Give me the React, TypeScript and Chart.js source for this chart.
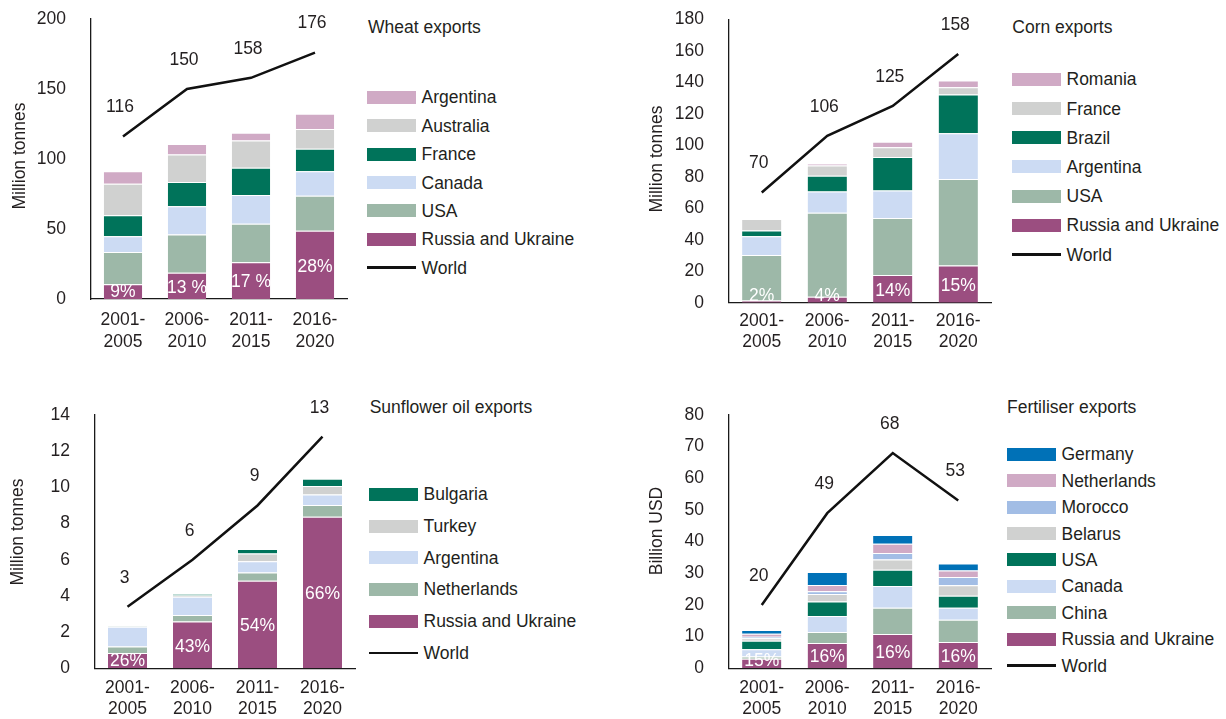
import React, { useEffect, useRef } from 'react';
import { Chart, registerables } from 'chart.js';

Chart.register(...registerables);

const FONT = "'Liberation Sans', Arial, Helvetica, sans-serif";
const TEXT = '#231f20';

const PERIODS = [['2001-', '2005'], ['2006-', '2010'], ['2011-', '2015'], ['2016-', '2020']];

// Colours
const C_PURPLE = '#9b4e80';
const C_SAGE = '#9db8a8';
const C_LIGHTBLUE = '#ccdbf3';
const C_GREEN = '#00735a';
const C_GREY = '#d0d1d0';
const C_PINK = '#d0aac5';
const C_BLUE = '#0071b7';
const C_MIDBLUE = '#a2bde5';

// Wheat exports (million tonnes)
const wheatRussiaUkraine = [10.6, 18.8, 26.2, 48.8];
const wheatUSA = [22.9, 27.2, 27.6, 25.0];
const wheatCanada = [11.4, 20.2, 20.5, 17.4];
const wheatFrance = [15.0, 17.4, 19.5, 16.2];
const wheatAustralia = [22.4, 19.7, 19.5, 14.0];
const wheatArgentina = [9.0, 7.4, 5.5, 11.0];
const wheatWorld = [116, 150, 158, 176];
const wheatWorldLabels = ['116', '150', '158', '176'];
const wheatShares = ['9%', '13 %', '17 %', '28%'];

// Corn exports (million tonnes)
const cornRussiaUkraine = [1.4, 3.8, 17.6, 23.7];
const cornUSA = [28.9, 53.4, 36.2, 54.9];
const cornArgentina = [11.9, 13.4, 17.4, 29.0];
const cornBrazil = [3.6, 10.1, 21.4, 24.6];
const cornFrance = [7.4, 6.4, 6.1, 4.7];
const cornRomania = [0, 1.2, 3.6, 4.2];
const cornWorld = [70, 106, 125, 158];
const cornWorldLabels = ['70', '106', '125', '158'];
const cornShares = ['2%', '4%', '14%', '15%'];

// Sunflower oil exports (million tonnes)
const sunRussiaUkraine = [0.85, 2.58, 4.84, 8.38];
const sunNetherlands = [0.35, 0.37, 0.46, 0.64];
const sunArgentina = [1.1, 1.01, 0.61, 0.59];
const sunTurkey = [0.02, 0.06, 0.44, 0.46];
const sunBulgaria = [0.04, 0.08, 0.24, 0.41];
const sunWorld = [3.4, 6.0, 9.0, 12.8];
const sunWorldLabels = ['3', '6', '9', '13'];
const sunShares = ['26%', '43%', '54%', '66%'];

// Fertiliser exports (billion USD)
const fertRussiaUkraine = [3.05, 8.0, 10.8, 8.3];
const fertChina = [0.65, 3.5, 8.3, 7.0];
const fertCanada = [2.3, 5.0, 6.9, 3.8];
const fertUSA = [2.7, 4.6, 5.1, 3.8];
const fertBelarus = [0.8, 2.4, 3.3, 3.3];
const fertMorocco = [0.5, 0.8, 2.0, 2.6];
const fertNetherlands = [0.9, 2.0, 2.9, 2.1];
const fertGermany = [1.2, 4.1, 2.8, 2.2];
const fertWorld = [20, 49, 68, 53];
const fertWorldLabels = ['20', '49', '68', '53'];
const fertShares = ['15%', '16%', '16%', '16%'];

type Series = { label: string; data: number[]; color: string };

type PanelCfg = {
  title: string;
  yTitle: string;
  yTitlePos: [number, number];
  canvas: { left: number; top: number; width: number; height: number };
  area: { l: number; r: number; t: number; b: number };
  yMax: number;
  yStep: number;
  xPad: number;
  xLineHeight: number;
  series: Series[]; // bottom-up
  world: number[];
  worldLabels: string[];
  shares: string[];
  titlePos: [number, number];
  legendX: number;
  legendFirst: number;
  legendStep: number;
};

const panels: PanelCfg[] = [
  {
    title: 'Wheat exports',
    yTitle: 'Million tonnes',
    yTitlePos: [20, 156],
    canvas: { left: 0, top: 0, width: 360, height: 370 },
    area: { l: 91, r: 347, t: 19, b: 299 },
    yMax: 200,
    yStep: 50,
    xPad: 10,
    xLineHeight: 22,
    series: [
      { label: 'Russia and Ukraine', data: wheatRussiaUkraine, color: C_PURPLE },
      { label: 'USA', data: wheatUSA, color: C_SAGE },
      { label: 'Canada', data: wheatCanada, color: C_LIGHTBLUE },
      { label: 'France', data: wheatFrance, color: C_GREEN },
      { label: 'Australia', data: wheatAustralia, color: C_GREY },
      { label: 'Argentina', data: wheatArgentina, color: C_PINK },
    ],
    world: wheatWorld,
    worldLabels: wheatWorldLabels,
    shares: wheatShares,
    titlePos: [368, 26.7],
    legendX: 367,
    legendFirst: 97.3,
    legendStep: 28.4,
  },
  {
    title: 'Corn exports',
    yTitle: 'Million tonnes',
    yTitlePos: [657, 159],
    canvas: { left: 600, top: 0, width: 400, height: 370 },
    area: { l: 729, r: 991, t: 19.3, b: 302.7 },
    yMax: 180,
    yStep: 20,
    xPad: 8,
    xLineHeight: 21,
    series: [
      { label: 'Russia and Ukraine', data: cornRussiaUkraine, color: C_PURPLE },
      { label: 'USA', data: cornUSA, color: C_SAGE },
      { label: 'Argentina', data: cornArgentina, color: C_LIGHTBLUE },
      { label: 'Brazil', data: cornBrazil, color: C_GREEN },
      { label: 'France', data: cornFrance, color: C_GREY },
      { label: 'Romania', data: cornRomania, color: C_PINK },
    ],
    world: cornWorld,
    worldLabels: cornWorldLabels,
    shares: cornShares,
    titlePos: [1012.3, 26.7],
    legendX: 1012,
    legendFirst: 79.3,
    legendStep: 29.2,
  },
  {
    title: 'Sunflower oil exports',
    yTitle: 'Million tonnes',
    yTitlePos: [18, 532],
    canvas: { left: 0, top: 380, width: 360, height: 339 },
    area: { l: 95, r: 355, t: 415, b: 668.3 },
    yMax: 14,
    yStep: 2,
    xPad: 9,
    xLineHeight: 21,
    series: [
      { label: 'Russia and Ukraine', data: sunRussiaUkraine, color: C_PURPLE },
      { label: 'Netherlands', data: sunNetherlands, color: C_SAGE },
      { label: 'Argentina', data: sunArgentina, color: C_LIGHTBLUE },
      { label: 'Turkey', data: sunTurkey, color: C_GREY },
      { label: 'Bulgaria', data: sunBulgaria, color: C_GREEN },
    ],
    world: sunWorld,
    worldLabels: sunWorldLabels,
    shares: sunShares,
    titlePos: [369.7, 406.7],
    legendX: 369,
    legendFirst: 494.3,
    legendStep: 31.7,
  },
  {
    title: 'Fertiliser exports',
    yTitle: 'Billion USD',
    yTitlePos: [657, 531],
    canvas: { left: 600, top: 380, width: 400, height: 339 },
    area: { l: 729, r: 991, t: 415, b: 668.3 },
    yMax: 80,
    yStep: 10,
    xPad: 9,
    xLineHeight: 21,
    series: [
      { label: 'Russia and Ukraine', data: fertRussiaUkraine, color: C_PURPLE },
      { label: 'China', data: fertChina, color: C_SAGE },
      { label: 'Canada', data: fertCanada, color: C_LIGHTBLUE },
      { label: 'USA', data: fertUSA, color: C_GREEN },
      { label: 'Belarus', data: fertBelarus, color: C_GREY },
      { label: 'Morocco', data: fertMorocco, color: C_MIDBLUE },
      { label: 'Netherlands', data: fertNetherlands, color: C_PINK },
      { label: 'Germany', data: fertGermany, color: C_BLUE },
    ],
    world: fertWorld,
    worldLabels: fertWorldLabels,
    shares: fertShares,
    titlePos: [1007, 406.7],
    legendX: 1007,
    legendFirst: 454.3,
    legendStep: 26.4,
  },
];

const FS = 17.5;

function Panel({ cfg }: { cfg: PanelCfg }) {
  const ref = useRef<HTMLCanvasElement | null>(null);

  useEffect(() => {
    if (!ref.current) return;
    const { canvas, area } = cfg;
    const labelPlugin = {
      id: 'panelLabels',
      afterDatasetsDraw(chart: any) {
        const ctx = chart.ctx as CanvasRenderingContext2D;
        ctx.save();
        ctx.font = `${FS}px ${FONT}`;
        ctx.textAlign = 'center';
        ctx.textBaseline = 'middle';
        const barMeta = chart.getDatasetMeta(0);
        barMeta.data.forEach((el: any, i: number) => {
          const p = el.getProps(['x', 'y', 'base'], true);
          let cy = (p.y + p.base) / 2 + 2;
          if (cy > p.base - 7) cy = p.base - 7;
          ctx.fillStyle = '#ffffff';
          ctx.fillText(cfg.shares[i], p.x, cy);
        });
        const lineMeta = chart.getDatasetMeta(chart.data.datasets.length - 1);
        lineMeta.data.forEach((pt: any, i: number) => {
          ctx.fillStyle = TEXT;
          ctx.fillText(cfg.worldLabels[i], pt.x - 3, pt.y - 29);
        });
        ctx.translate(cfg.yTitlePos[0] - canvas.left, cfg.yTitlePos[1] - canvas.top);
        ctx.rotate(-Math.PI / 2);
        ctx.fillStyle = TEXT;
        ctx.fillText(cfg.yTitle, 0, 0);
        ctx.restore();
      },
    };

    const datasets: any[] = cfg.series.map((s) => ({
      type: 'bar',
      label: s.label,
      data: s.data,
      backgroundColor: s.color,
      borderColor: 'rgba(255,255,255,0.85)',
      borderWidth: { top: 1, left: 0, right: 0, bottom: 0 },
      borderSkipped: 'start',
      barPercentage: 0.6,
      categoryPercentage: 1,
      stack: 'bars',
    }));
    datasets.push({
      type: 'line',
      label: 'World',
      data: cfg.world,
      borderColor: '#111111',
      borderWidth: 2.5,
      pointRadius: 0,
      tension: 0,
      fill: false,
      stack: 'world',
      order: -1,
    });

    const chart = new Chart(ref.current, {
      type: 'bar',
      data: { labels: PERIODS, datasets },
      options: {
        responsive: false,
        maintainAspectRatio: false,
        animation: false,
        devicePixelRatio: 1,
        layout: {
          padding: {
            left: 0,
            top: area.t - canvas.top,
            right: canvas.left + canvas.width - area.r,
            bottom: 0,
          },
        },
        plugins: {
          legend: { display: false },
          tooltip: { enabled: false },
          title: { display: false },
        },
        scales: {
          x: {
            stacked: true,
            grid: { display: false, drawTicks: false },
            border: { display: true, color: '#1a1a1a', width: 1.3 },
            ticks: {
              color: TEXT,
              padding: cfg.xPad,
              font: { family: FONT, size: FS, lineHeight: cfg.xLineHeight / FS },
              maxRotation: 0,
              autoSkip: false,
            },
            afterFit: (s: any) => {
              s.height = canvas.top + canvas.height - area.b;
              s.paddingLeft = 0;
              s.paddingRight = 0;
            },
          },
          y: {
            stacked: true,
            min: 0,
            max: cfg.yMax,
            grid: { display: false, drawTicks: false },
            border: { display: true, color: '#1a1a1a', width: 1.3 },
            ticks: {
              stepSize: cfg.yStep,
              color: TEXT,
              padding: 25,
              font: { family: FONT, size: FS },
            },
            afterFit: (s: any) => {
              s.width = area.l - canvas.left;
              s.paddingTop = 0;
              s.paddingBottom = 0;
            },
          },
        },
      } as any,
      plugins: [labelPlugin],
    });
    return () => chart.destroy();
  }, [cfg]);

  const legendItems = [...cfg.series].reverse();
  const textLeft = cfg.legendX + 49 + 5.5;

  return (
    <>
      <canvas
        ref={ref}
        width={cfg.canvas.width}
        height={cfg.canvas.height}
        style={{
          position: 'absolute',
          left: cfg.canvas.left,
          top: cfg.canvas.top,
          width: cfg.canvas.width,
          height: cfg.canvas.height,
        }}
      />
      <div
        style={{
          position: 'absolute',
          left: cfg.titlePos[0],
          top: cfg.titlePos[1] - 10,
          lineHeight: '20px',
          fontSize: FS,
          fontFamily: FONT,
          color: TEXT,
          whiteSpace: 'nowrap',
        }}
      >
        {cfg.title}
      </div>
      {legendItems.map((s, i) => {
        const cy = cfg.legendFirst + i * cfg.legendStep;
        return (
          <React.Fragment key={s.label}>
            <div
              style={{
                position: 'absolute',
                left: cfg.legendX,
                top: cy - 6.5,
                width: 49,
                height: 13,
                background: s.color,
              }}
            />
            <div
              style={{
                position: 'absolute',
                left: textLeft,
                top: cy - 10,
                lineHeight: '20px',
                fontSize: FS,
                fontFamily: FONT,
                color: TEXT,
                whiteSpace: 'nowrap',
              }}
            >
              {s.label}
            </div>
          </React.Fragment>
        );
      })}
      {(() => {
        const cy = cfg.legendFirst + legendItems.length * cfg.legendStep;
        return (
          <>
            <div
              style={{
                position: 'absolute',
                left: cfg.legendX,
                top: cy - 1.25,
                width: 49,
                height: 2.5,
                background: '#111111',
              }}
            />
            <div
              style={{
                position: 'absolute',
                left: textLeft,
                top: cy - 10,
                lineHeight: '20px',
                fontSize: FS,
                fontFamily: FONT,
                color: TEXT,
                whiteSpace: 'nowrap',
              }}
            >
              World
            </div>
          </>
        );
      })()}
    </>
  );
}

export default function App() {
  return (
    <div
      style={{
        position: 'absolute',
        left: 0,
        top: 0,
        width: 1226,
        height: 719,
        background: '#ffffff',
        overflow: 'hidden',
      }}
    >
      {panels.map((p) => (
        <Panel key={p.title} cfg={p} />
      ))}
    </div>
  );
}
